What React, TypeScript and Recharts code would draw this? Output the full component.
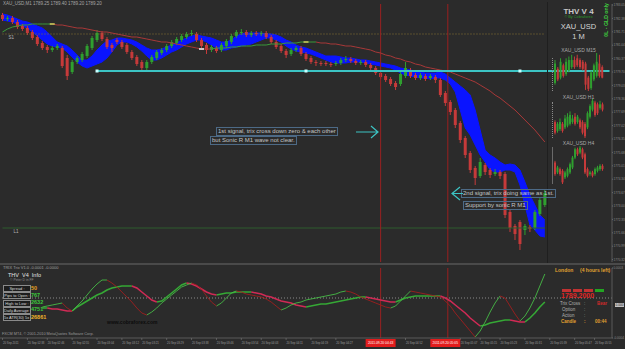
import React from "react";
import {
  ComposedChart,
  Bar,
  Line,
  Area,
  XAxis,
  YAxis,
  ReferenceLine,
  ReferenceDot,
} from "recharts";

const FONT = "'Liberation Sans', Arial, sans-serif";
const BG = "#2b2b2b";
const UP = "#2f9f2f";
const DOWN = "#c63a3a";
const SLOTS = 123;

// XAU_USD M1 candles
const opens = [
  1782.55, 1782.35, 1782.4, 1782.2, 1782.0, 1781.9, 1781.7, 1781.45, 1781.15, 1780.95,
  1780.8, 1780.9, 1780.9, 1780.4, 1779.7, 1780.2, 1780.3, 1780.5, 1780.9, 1781.3,
  1781.65, 1781.35, 1781.05, 1781.3, 1781.2, 1781.05, 1780.7, 1780.45, 1780.2, 1779.9,
  1780.2, 1780.4, 1780.65, 1780.8, 1781.0, 1781.15, 1781.3, 1781.45, 1781.6, 1781.6,
  1781.3, 1781.05, 1780.8, 1780.9, 1780.8, 1781.0, 1781.2, 1781.5, 1781.65, 1781.7,
  1781.55, 1781.65, 1781.6, 1781.65, 1781.45, 1781.2, 1781.0, 1780.75, 1780.6, 1780.8,
  1780.9, 1780.6, 1780.4, 1780.2, 1780.15, 1780.15, 1780.1, 1780.1, 1780.15, 1780.3,
  1780.35, 1780.25, 1780.15, 1780.2, 1780.05, 1779.9, 1779.65, 1779.5, 1779.35, 1779.15,
  1779.1, 1779.5, 1779.8, 1779.55, 1779.4, 1779.5, 1779.4, 1779.45, 1779.3, 1778.65,
  1778.2, 1777.8, 1777.15, 1776.4, 1775.65, 1774.9, 1774.5, 1775.05, 1774.8, 1774.6,
  1774.7, 1774.6, 1772.7, 1772.0, 1772.2, 1771.8, 1771.95, 1771.9, 1772.6, 1773.05,
];
const closes = [
  1782.35, 1782.4, 1782.2, 1781.95, 1781.85, 1781.65, 1781.4, 1781.1, 1780.9, 1780.8,
  1780.9, 1781.0, 1780.0, 1779.5, 1780.2, 1780.4, 1780.6, 1781.0, 1781.4, 1781.65,
  1781.35, 1780.95, 1780.9, 1781.2, 1780.95, 1780.7, 1780.4, 1780.1, 1779.9, 1780.2,
  1780.45, 1780.7, 1780.8, 1781.0, 1781.2, 1781.35, 1781.5, 1781.6, 1781.65, 1781.3,
  1781.0, 1780.8, 1780.95, 1780.75, 1781.05, 1781.25, 1781.5, 1781.7, 1781.7, 1781.55,
  1781.65, 1781.6, 1781.65, 1781.45, 1781.2, 1780.95, 1780.75, 1780.55, 1780.8, 1780.9,
  1780.6, 1780.35, 1780.2, 1780.15, 1780.1, 1780.1, 1780.05, 1780.15, 1780.3, 1780.35,
  1780.25, 1780.15, 1780.2, 1780.05, 1779.9, 1779.65, 1779.45, 1779.3, 1779.1, 1778.95,
  1779.6, 1779.9, 1779.5, 1779.4, 1779.55, 1779.35, 1779.5, 1779.3, 1778.55, 1778.15,
  1777.7, 1777.05, 1776.3, 1775.55, 1774.8, 1774.4, 1775.2, 1774.7, 1774.55, 1774.7,
  1774.5, 1772.55, 1771.9, 1771.6, 1771.1, 1772.0, 1771.85, 1772.7, 1773.3, 1773.65,
];
const highs = [
  1782.65, 1782.5, 1782.5, 1782.3, 1782.1, 1782.0, 1781.8, 1781.55, 1781.25, 1781.05,
  1781.0, 1781.1, 1781.0, 1780.55, 1780.3, 1780.5, 1780.7, 1781.1, 1781.5, 1781.8,
  1781.75, 1781.45, 1781.15, 1781.4, 1781.3, 1781.15, 1780.8, 1780.55, 1780.3, 1780.3,
  1780.55, 1780.8, 1780.9, 1781.1, 1781.3, 1781.45, 1781.6, 1781.7, 1781.8, 1781.7,
  1781.4, 1781.15, 1781.05, 1781.0, 1781.15, 1781.35, 1781.6, 1781.8, 1781.85, 1781.8,
  1781.75, 1781.75, 1781.75, 1781.75, 1781.55, 1781.3, 1781.1, 1780.85, 1780.9, 1781.0,
  1781.0, 1780.7, 1780.5, 1780.3, 1780.25, 1780.25, 1780.2, 1780.25, 1780.4, 1780.5,
  1780.45, 1780.35, 1780.3, 1780.3, 1780.15, 1780.0, 1779.75, 1779.6, 1779.45, 1779.25,
  1779.7, 1780.2, 1779.9, 1779.65, 1779.65, 1779.6, 1779.6, 1779.55, 1779.4, 1778.75,
  1778.3, 1777.9, 1777.25, 1776.5, 1775.75, 1775.0, 1775.4, 1775.15, 1774.9, 1774.85,
  1774.8, 1774.7, 1772.8, 1772.1, 1772.3, 1772.1, 1772.05, 1772.8, 1773.4, 1773.8,
];
const lows = [
  1782.25, 1782.25, 1782.1, 1781.85, 1781.75, 1781.55, 1781.3, 1781.0, 1780.8, 1780.65,
  1780.7, 1780.8, 1779.9, 1779.3, 1779.6, 1780.1, 1780.2, 1780.4, 1780.8, 1781.2,
  1781.25, 1780.85, 1780.7, 1781.1, 1780.85, 1780.6, 1780.3, 1780.0, 1779.7, 1779.8,
  1780.1, 1780.3, 1780.55, 1780.7, 1780.9, 1781.05, 1781.2, 1781.35, 1781.5, 1781.2,
  1780.9, 1780.6, 1780.7, 1780.65, 1780.7, 1780.9, 1781.1, 1781.4, 1781.55, 1781.45,
  1781.45, 1781.5, 1781.5, 1781.35, 1781.1, 1780.85, 1780.65, 1780.4, 1780.5, 1780.7,
  1780.5, 1780.25, 1780.1, 1780.0, 1780.0, 1780.0, 1779.95, 1780.0, 1780.05, 1780.2,
  1780.15, 1780.05, 1780.05, 1779.95, 1779.8, 1779.55, 1779.35, 1779.2, 1779.0, 1778.8,
  1779.0, 1779.4, 1779.4, 1779.3, 1779.3, 1779.25, 1779.3, 1779.15, 1778.45, 1778.0,
  1777.55, 1776.9, 1776.15, 1775.4, 1774.65, 1774.05, 1774.4, 1774.55, 1774.4, 1774.5,
  1774.35, 1772.4, 1771.7, 1771.3, 1770.8, 1771.55, 1771.7, 1771.8, 1772.5, 1772.95,
];

// Sonic R wave band (upper / lower edge)
const sonicHi = [
  1782.6, 1782.55, 1782.45, 1782.35, 1782.25, 1782.2, 1782.1, 1782.0, 1781.9, 1781.7,
  1781.45, 1781.2, 1781.1, 1781.0, 1780.8, 1780.55, 1780.3, 1780.3, 1780.5, 1780.8,
  1781.05, 1781.25, 1781.3, 1781.4, 1781.4, 1781.35, 1781.3, 1781.2, 1781.05, 1780.9,
  1780.8, 1780.8, 1780.85, 1780.95, 1781.05, 1781.15, 1781.3, 1781.4, 1781.5, 1781.55,
  1781.5, 1781.45, 1781.4, 1781.3, 1781.2, 1781.2, 1781.3, 1781.5, 1781.6, 1781.65,
  1781.65, 1781.65, 1781.65, 1781.6, 1781.6, 1781.55, 1781.45, 1781.3, 1781.2, 1781.05,
  1780.95, 1780.9, 1780.8, 1780.7, 1780.6, 1780.5, 1780.5, 1780.5, 1780.45, 1780.4,
  1780.4, 1780.35, 1780.3, 1780.3, 1780.25, 1780.2, 1780.15, 1780.1, 1780.05, 1780.0,
  1779.9, 1779.85, 1779.8, 1779.75, 1779.7, 1779.65, 1779.65, 1779.65, 1779.7, 1779.6,
  1779.4, 1779.2, 1779.0, 1778.8, 1778.55, 1777.8, 1776.8, 1775.8, 1775.55, 1775.4,
  1775.2, 1775.05, 1775.1, 1775.05, 1774.8, 1774.2, 1773.55, 1773.05, 1772.55, 1772.3,
];
const sonicLo = [
  1782.3, 1782.25, 1782.2, 1782.1, 1782.0, 1781.9, 1781.7, 1781.5, 1781.3, 1781.1,
  1781.0, 1780.95, 1780.9, 1780.7, 1780.45, 1780.2, 1780.0, 1779.9, 1780.0, 1780.1,
  1780.2, 1780.4, 1780.7, 1781.05, 1781.2, 1781.2, 1781.1, 1780.95, 1780.75, 1780.5,
  1780.3, 1780.3, 1780.4, 1780.55, 1780.7, 1780.8, 1780.95, 1781.1, 1781.2, 1781.3,
  1781.3, 1781.2, 1781.05, 1780.9, 1780.8, 1780.8, 1780.9, 1780.95, 1781.0, 1781.05,
  1781.1, 1781.2, 1781.3, 1781.4, 1781.4, 1781.3, 1781.2, 1781.0, 1780.85, 1780.75,
  1780.7, 1780.65, 1780.6, 1780.5, 1780.4, 1780.3, 1780.2, 1780.15, 1780.15, 1780.15,
  1780.2, 1780.2, 1780.2, 1780.15, 1780.1, 1780.05, 1780.0, 1779.95, 1779.9, 1779.8,
  1779.65, 1779.55, 1779.5, 1779.45, 1779.4, 1779.4, 1779.35, 1779.4, 1779.4, 1779.3,
  1779.1, 1778.7, 1777.8, 1776.9, 1776.55, 1776.05, 1775.55, 1775.2, 1774.8, 1774.7,
  1774.7, 1774.8, 1774.8, 1774.7, 1774.05, 1773.05, 1772.05, 1771.8, 1771.5, 1771.45,
];

// slow moving average, coloured by slope
const maLine = [
  1781.7, 1781.85, 1781.95, 1782.0, 1782.05, 1782.05, 1782.1, 1782.1, 1782.1, 1782.1,
  1782.1, 1782.05, 1782.05, 1782.0, 1781.95, 1781.9, 1781.9, 1781.85, 1781.8, 1781.75,
  1781.7, 1781.7, 1781.65, 1781.6, 1781.55, 1781.5, 1781.45, 1781.45, 1781.4, 1781.35,
  1781.3, 1781.25, 1781.2, 1781.2, 1781.15, 1781.1, 1781.05, 1781.0, 1780.95, 1780.9,
  1780.85, 1780.85, 1780.85, 1780.9, 1780.9, 1780.9, 1780.95, 1780.95, 1781.0, 1781.0,
  1781.0, 1781.05, 1781.05, 1781.05, 1781.1, 1781.1, 1781.1, 1781.15, 1781.15, 1781.15,
  1781.2, 1781.2, 1781.2, 1781.2, 1781.15, 1781.15, 1781.1, 1781.1, 1781.05, 1781.0,
  1781.0, 1780.95, 1780.9, 1780.85, 1780.8, 1780.7, 1780.65, 1780.55, 1780.5, 1780.4,
  1780.35, 1780.25, 1780.2, 1780.1, 1780.05, 1779.95, 1779.9, 1779.85, 1779.8, 1779.75,
  1779.7, 1779.6, 1779.5, 1779.4, 1779.3, 1779.2, 1779.05, 1778.9, 1778.75, 1778.55,
  1778.4, 1778.2, 1778.0, 1777.8, 1777.55, 1777.3, 1777.05, 1776.8, 1776.5, 1776.2,
];

// TRIX window
const trixFast = [
  null, null, null, null, null, null, null, null, -9e-5, -8e-5,
  -7e-5, -6e-5, -5e-5, -10e-5, -13e-5, -8e-5, -3e-5, 3e-5, 9e-5, 14e-5,
  18e-5, 18e-5, 15e-5, 11e-5, 6e-5, 1e-5, -4e-5, -10e-5, -15e-5, -17e-5,
  -14e-5, -10e-5, -5e-5, -1e-5, 3e-5, 7e-5, 11e-5, 13e-5, 15e-5, 13e-5,
  9e-5, 2e-5, -4e-5, -8e-5, -5e-5, 0, 5e-5, 7e-5, 6e-5, 4e-5,
  3e-5, 2e-5, 1e-5, -1e-5, -4e-5, -8e-5, -12e-5, -10e-5, -7e-5, -5e-5,
  -4e-5, -2e-5, -1e-5, 0, 1e-5, 2e-5, 3e-5, 4e-5, 6e-5, 7e-5,
  6e-5, 4e-5, 1e-5, -1e-5, -3e-5, -5e-5, -7e-5, -9e-5, -10e-5, -8e-5,
  -3e-5, 2e-5, 7e-5, 6e-5, 5e-5, 4e-5, 3e-5, 2e-5, 1e-5, -3e-5,
  -8e-5, -15e-5, -21e-5, -27e-5, -33e-5, -39e-5, -33e-5, -24e-5, -14e-5, -5e-5,
  2e-5, 0, -8e-5, -16e-5, -23e-5, -18e-5, -10e-5, 0, 12e-5, 24e-5,
];
const trixSlow = [
  null, null, null, null, null, null, null, null, -10e-5, -10e-5,
  -11e-5, -11e-5, -12e-5, -13e-5, -13e-5, -9e-5, -6e-5, -3e-5, 0, 3e-5,
  5e-5, 8e-5, 10e-5, 11e-5, 12e-5, 12e-5, 12e-5, 10e-5, 6e-5, 2e-5,
  -2e-5, -4e-5, -3e-5, 1e-5, 5e-5, 9e-5, 13e-5, 15e-5, 14e-5, 12e-5,
  9e-5, 6e-5, 4e-5, 3e-5, 4e-5, 5e-5, 5e-5, 6e-5, 6e-5, 6e-5,
  6e-5, 5e-5, 4e-5, 2e-5, 1e-5, -1e-5, -3e-5, -4e-5, -5e-5, -7e-5,
  -8e-5, -9e-5, -8e-5, -7e-5, -6e-5, -6e-5, -5e-5, -4e-5, -3e-5, -2e-5,
  -1e-5, 0, 1e-5, 1e-5, 0, -1e-5, -2e-5, -3e-5, -4e-5, -4e-5,
  -2e-5, 0, 1e-5, 2e-5, 2e-5, 2e-5, 2e-5, 2e-5, 2e-5, 0,
  -3e-5, -7e-5, -11e-5, -15e-5, -20e-5, -24e-5, -28e-5, -27e-5, -25e-5, -24e-5,
  -23e-5, -22e-5, -22e-5, -23e-5, -24e-5, -24e-5, -20e-5, -15e-5, -9e-5, -4e-5,
];

const priceTicks = [
  1783.05, 1782.38, 1781.71, 1781.04, 1780.37, 1779.7, 1779.03, 1778.36, 1777.69, 1777.02,
  1776.35, 1775.68, 1775.01, 1774.34, 1773.67, 1773.0, 1772.33, 1771.66, 1770.99, 1770.32,
];
const trixTicks = [0.0003, -0.0004];

const timeTickIdx = [0, 5, 9, 14, 19, 24, 28, 33, 38, 43, 48, 52, 57, 62, 67, 81, 92, 96, 100, 105, 110, 115, 119];
const timeTickLabels = [
  "20 Sep 2011", "20 Sep 02:38", "20 Sep 02:46", "20 Sep 02:55", "20 Sep 03:04", "20 Sep 03:12",
  "20 Sep 03:21", "20 Sep 03:29", "20 Sep 03:38", "20 Sep 03:46", "20 Sep 03:54", "20 Sep 04:03",
  "20 Sep 04:11", "20 Sep 04:19", "20 Sep 04:27", "20 Sep 04:52",
  "20 Sep 05:07", "20 Sep 05:15", "20 Sep 05:23", "20 Sep 05:31", "20 Sep 05:39", "20 Sep 05:47",
  "20 Sep 05:55",
];
const vLineIdx = [76, 89];
const vLineLabels = ["2011.09.20 04:43", "2011.09.20 05:05"];

const cyanLevel = 1779.75;
const cyanMarks = [19, 61, 104];
const dotLevel = 1781.6;
const greenLevel = 1771.9;

// small panel charts: M15, H1, H4
const m15 = {
  o: [1780.1, 1780.9, 1780.4, 1781.1, 1780.6, 1780.8, 1781.0, 1781.4, 1781.5, 1781.4, 1781.3, 1781.2, 1780.4, 1779.8, 1780.3, 1780.5, 1781.2, 1781.0],
  c: [1781.2, 1780.3, 1781.3, 1780.5, 1781.3, 1781.4, 1781.4, 1781.0, 1781.1, 1781.0, 1780.9, 1780.0, 1779.76, 1780.7, 1781.1, 1781.3, 1780.5, 1780.4],
  h: [1781.4, 1781.0, 1781.5, 1781.2, 1781.5, 1781.6, 1781.7, 1781.6, 1781.7, 1781.5, 1781.4, 1781.3, 1780.5, 1780.8, 1781.2, 1781.8, 1781.7, 1781.1],
  l: [1780.0, 1780.2, 1780.3, 1780.4, 1780.5, 1780.7, 1780.9, 1780.9, 1781.0, 1780.9, 1780.8, 1779.7, 1779.64, 1779.7, 1780.2, 1780.4, 1780.4, 1780.36],
};
const h1 = {
  o: [1777.7, 1777.2, 1777.3, 1777.6, 1777.4, 1777.5, 1777.6, 1777.7, 1778.0, 1777.7, 1777.8, 1777.7, 1777.6, 1777.4, 1778.0, 1778.4, 1778.8, 1778.7, 1778.5, 1778.7],
  c: [1777.1, 1777.6, 1777.7, 1777.2, 1777.9, 1778.0, 1778.1, 1777.9, 1777.6, 1778.0, 1777.4, 1777.1, 1776.9, 1778.2, 1778.6, 1778.9, 1778.1, 1778.2, 1778.7, 1778.4],
  h: [1777.8, 1777.7, 1777.9, 1777.7, 1778.1, 1778.2, 1778.3, 1778.1, 1778.2, 1778.1, 1777.9, 1777.8, 1777.7, 1778.3, 1778.7, 1779.0, 1778.9, 1778.8, 1778.9, 1778.8],
  l: [1777.0, 1777.1, 1777.2, 1777.1, 1777.3, 1777.4, 1777.5, 1777.6, 1777.5, 1777.6, 1777.3, 1777.0, 1776.8, 1777.3, 1777.9, 1778.3, 1778.0, 1778.1, 1778.4, 1778.3],
};
const h4 = {
  o: [1775.3, 1774.7, 1774.9, 1774.8, 1774.4, 1774.5, 1774.7, 1775.0, 1775.6, 1776.1, 1775.9, 1776.1, 1775.8, 1774.9, 1774.6, 1774.7, 1774.6, 1774.8, 1774.9, 1775.1],
  c: [1774.6, 1775.0, 1774.6, 1774.1, 1774.7, 1774.9, 1775.2, 1775.6, 1776.1, 1775.8, 1776.2, 1775.6, 1774.7, 1774.5, 1774.7, 1774.5, 1774.9, 1775.0, 1775.1, 1774.9],
  h: [1775.4, 1775.1, 1775.0, 1774.9, 1774.8, 1775.0, 1775.3, 1775.7, 1776.2, 1776.2, 1776.3, 1776.2, 1775.9, 1775.0, 1774.8, 1774.8, 1775.0, 1775.1, 1775.2, 1775.2],
  l: [1774.5, 1774.6, 1774.5, 1774.0, 1774.3, 1774.4, 1774.6, 1774.9, 1775.5, 1775.7, 1775.8, 1775.5, 1774.6, 1774.4, 1774.5, 1774.4, 1774.5, 1774.7, 1774.8, 1774.8],
};

const infoRows = [
  { label: "Spread :", value: "50", color: "#e8a020" },
  { label: "Pips to Open :", value: "767", color: "#3cc83c" },
  { label: "High to Low :", value: "2632", color: "#3cc83c" },
  { label: "Daily Average :", value: "4751", color: "#3cc83c" },
  { label: "5x ATR(30) 5x :", value: "26861", color: "#f2b52a" },
];

function splitBySlope(arr: (number | null)[]) {
  const seg: (string | null)[] = [];
  let last = "up";
  for (let i = 0; i < arr.length - 1; i++) {
    const a = arr[i];
    const b = arr[i + 1];
    if (a == null || b == null) {
      seg.push(null);
      continue;
    }
    if (b > a) last = "up";
    else if (b < a) last = "dn";
    seg.push(last);
  }
  const pick = (dir: string) =>
    arr.map((v, i) => (v != null && (seg[i - 1] === dir || seg[i] === dir) ? v : null));
  return [pick("up"), pick("dn")];
}

const [maUp, maDn] = splitBySlope(maLine);
const [fastUp, fastDn] = splitBySlope(trixFast);
const [slowUp, slowDn] = splitBySlope(trixSlow);

const rows = Array.from({ length: SLOTS }, (_, i) => ({
  i,
  open: opens[i] ?? null,
  high: highs[i] ?? null,
  low: lows[i] ?? null,
  close: closes[i] ?? null,
  sHi: sonicHi[i] ?? null,
  sLo: sonicLo[i] ?? null,
  maUp: maUp[i] ?? null,
  maDn: maDn[i] ?? null,
  fUp: fastUp[i] ?? null,
  fDn: fastDn[i] ?? null,
  sUp: slowUp[i] ?? null,
  sDn: slowDn[i] ?? null,
}));

function Candle(props: any) {
  const { x, y, width, height, payload } = props;
  if (!payload || payload.open == null) return null;
  const { open, close, high, low } = payload;
  const top = height < 0 ? y + height : y;
  const h = Math.abs(height);
  const k = h / (high - low || 1);
  const col = close >= open ? UP : DOWN;
  const bodyTop = top + (high - Math.max(open, close)) * k;
  const bodyH = Math.max(1, Math.abs(close - open) * k);
  const cx = x + width / 2;
  return (
    <g>
      <line x1={cx} x2={cx} y1={top} y2={top + h} stroke={col} strokeWidth={1} />
      <rect x={x} y={bodyTop} width={width} height={bodyH} fill={col} />
    </g>
  );
}

function MiniCandles({ data, left, top, width, height }: any) {
  const d = data.o.map((o: number, i: number) => ({
    i,
    open: o,
    close: data.c[i],
    high: data.h[i],
    low: data.l[i],
  }));
  return (
    <div style={{ position: "absolute", left, top }}>
      <ComposedChart width={width} height={height} data={d} margin={{ top: 0, right: 0, bottom: 0, left: 0 }}>
        <XAxis dataKey="i" scale="band" hide />
        <YAxis hide domain={["dataMin", "dataMax"]} />
        <Bar
          dataKey={(r: any) => [r.low, r.high]}
          barSize={2}
          shape={(p: any) => <Candle {...p} />}
          isAnimationActive={false}
        />
      </ComposedChart>
    </div>
  );
}

function LineTag({ viewBox, text, dx, dy }: any) {
  if (!viewBox) return null;
  return (
    <text x={viewBox.x + dx} y={viewBox.y + dy} fontSize={4.5} fill="#b5b5b5" fontFamily={FONT}>
      {text}
    </text>
  );
}

function TimeTick(props: any) {
  const { x, y, payload } = props;
  const idx = payload.value;
  const r = vLineIdx.indexOf(idx);
  if (r >= 0) {
    return (
      <g>
        <rect x={x - 15} y={y - 2} width={30} height={8} fill="#e21c1c" />
        <text x={x} y={y + 3.4} textAnchor="middle" fontSize={3.3} fill="#ffffff" fontFamily={FONT}>
          {vLineLabels[r]}
        </text>
      </g>
    );
  }
  const j = timeTickIdx.indexOf(idx);
  return (
    <g>
      <line x1={x} x2={x} y1={y - 3} y2={y - 1} stroke="#7a7a7a" strokeWidth={0.6} />
      <text x={x + 0.4} y={y + 3.4} fontSize={2.8} fill="#9c9c9c" fontFamily={FONT}>
        {timeTickLabels[j]}
      </text>
    </g>
  );
}

const small = (extra: React.CSSProperties): React.CSSProperties => ({
  position: "absolute",
  whiteSpace: "nowrap",
  fontFamily: FONT,
  lineHeight: 1,
  ...extra,
});

const noteBox: React.CSSProperties = {
  position: "absolute",
  whiteSpace: "nowrap",
  fontFamily: FONT,
  fontSize: 6,
  lineHeight: "7px",
  color: "#c4c4c4",
  border: "1px solid #4d6a86",
  padding: "0 1px",
};

export default function App() {
  return (
    <div
      style={{
        position: "absolute",
        left: 0,
        top: 0,
        width: 625,
        height: 349,
        background: BG,
        overflow: "hidden",
        fontFamily: FONT,
      }}
    >
      {/* price window */}
      <div style={{ position: "absolute", left: 0, top: 0 }}>
        <ComposedChart width={625} height={263} data={rows} margin={{ top: 4, right: 0, bottom: 1, left: 0 }}>
          <XAxis dataKey="i" scale="band" hide />
          <YAxis
            orientation="right"
            width={13}
            domain={[1770.2, 1783.1]}
            ticks={priceTicks}
            interval={0}
            allowDataOverflow
            tickFormatter={(v: number) => v.toFixed(2)}
            tick={{ fontSize: 3.1, fill: "#8c8c8c", fontFamily: FONT }}
            tickSize={1}
            tickMargin={0.5}
            tickLine={{ stroke: "#6a6a6a" }}
            axisLine={{ stroke: "#5a5a5a" }}
          />
          <ReferenceLine
            segment={[{ x: 0, y: dotLevel }, { x: 109, y: dotLevel }]}
            stroke="#8a7432"
            strokeDasharray="1 2"
            label={<LineTag text="S1" dx={6} dy={5} />}
          />
          <ReferenceLine
            segment={[{ x: 0, y: greenLevel }, { x: 109, y: greenLevel }]}
            stroke="#2f5c2f"
            label={<LineTag text="L1" dx={11} dy={5} />}
          />
          <ReferenceLine x={vLineIdx[0]} stroke="#9a2020" />
          <ReferenceLine x={vLineIdx[1]} stroke="#9a2020" position="end" />
          <Area
            dataKey={(d: any) => (d.sHi == null ? null : [d.sLo, d.sHi])}
            type="linear"
            stroke="#0a14ff"
            strokeWidth={1}
            fill="#0a14ff"
            fillOpacity={1}
            isAnimationActive={false}
            dot={false}
            activeDot={false}
          />
          <Bar
            dataKey={(d: any) => (d.high == null ? null : [d.low, d.high])}
            barSize={3}
            shape={(p: any) => <Candle {...p} />}
            isAnimationActive={false}
          />
          <Line dataKey="maUp" stroke="#3a9a3a" strokeWidth={1} dot={false} activeDot={false} isAnimationActive={false} />
          <Line dataKey="maDn" stroke="#a83838" strokeWidth={1} dot={false} activeDot={false} isAnimationActive={false} />
          <ReferenceLine
            segment={[{ x: 19, y: cyanLevel }, { x: 122, y: cyanLevel }]}
            stroke="#3cc4c4"
            strokeWidth={2}
          />
          {cyanMarks.map((m) => (
            <ReferenceDot
              key={m}
              x={m}
              y={cyanLevel}
              r={1.5}
              shape={(p: any) => <rect x={p.cx - 1.5} y={p.cy - 1.5} width={3} height={3} fill="#c8ffff" />}
            />
          ))}
          <ReferenceDot x={10} y={maLine[10]} r={1} shape={(p: any) => <rect x={p.cx - 2.5} y={p.cy - 0.8} width={5} height={1.6} fill="#c9c25a" />} />
          <ReferenceDot x={40} y={maLine[40]} r={1} shape={(p: any) => <rect x={p.cx - 2.5} y={p.cy - 0.8} width={5} height={1.6} fill="#e8e8e8" />} />
          <ReferenceDot x={61} y={maLine[61]} r={1} shape={(p: any) => <rect x={p.cx - 2.5} y={p.cy - 0.8} width={5} height={1.6} fill="#c9c25a" />} />
        </ComposedChart>
      </div>

      <div style={small({ left: 3, top: 2, fontSize: 4.5, color: "#a6a6a6" })}>
        XAU_USD,M1 1789.25 1789.40 1789.20 1789.20
      </div>

      {/* right info panel */}
      <div style={{ position: "absolute", left: 547, top: 2, width: 65, height: 261, borderLeft: "1px solid #1f1f1f" }} />
      <div style={small({ left: 547, width: 63, top: 8, fontSize: 8, fontWeight: "bold", color: "#c9c9c9", textAlign: "center" })}>THV V 4</div>
      <div style={small({ left: 547, width: 63, top: 16, fontSize: 3.8, color: "#2a9a2a", textAlign: "center" })}>© By Cobraforex</div>
      <div style={small({ left: 547, width: 63, top: 23, fontSize: 7.5, color: "#d6d6d6", textAlign: "center" })}>XAU_USD</div>
      <div style={small({ left: 547, width: 63, top: 33, fontSize: 7.5, color: "#d6d6d6", textAlign: "center" })}>1 M</div>
      <div
        style={small({
          left: 604,
          top: 3,
          fontSize: 5.2,
          fontWeight: "bold",
          color: "#3fd03f",
          writingMode: "vertical-rl",
          transform: "rotate(180deg)",
        })}
      >
        0L - GLD only
      </div>
      <div style={small({ left: 547, width: 63, top: 48, fontSize: 5, color: "#aaaaaa", textAlign: "center" })}>XAU_USD M15</div>
      <div style={small({ left: 547, width: 63, top: 95, fontSize: 5, color: "#aaaaaa", textAlign: "center" })}>XAU_USD H1</div>
      <div style={small({ left: 547, width: 63, top: 141, fontSize: 5, color: "#aaaaaa", textAlign: "center" })}>XAU_USD H4</div>
      <div style={{ position: "absolute", left: 552, top: 58, height: 33, borderLeft: "1px dotted #8a8a8a" }} />
      <div style={{ position: "absolute", left: 552, top: 102, height: 36, borderLeft: "1px dotted #8a8a8a" }} />
      <div style={{ position: "absolute", left: 552, top: 147, height: 37, borderLeft: "1px solid #6a6a6a" }} />
      <MiniCandles data={m15} left={554} top={53} width={50} height={38} />
      <MiniCandles data={h1} left={554} top={99} width={50} height={39} />
      <MiniCandles data={h4} left={554} top={146} width={50} height={38} />

      {/* notes */}
      <div style={{ ...noteBox, left: 216, top: 127 }}>1st signal, trix cross down zero &amp; each other</div>
      <div style={{ ...noteBox, left: 210, top: 136 }}>but Sonic R M1  wave not clear.</div>
      <div style={{ ...noteBox, left: 461, top: 189 }}>2nd signal, trix doing same as 1st.</div>
      <div style={{ ...noteBox, left: 463, top: 201 }}>Support by sonic R M1</div>
      <svg style={{ position: "absolute", left: 354, top: 124 }} width={26} height={16}>
        <path d="M2 8 L24 8 M17 2 L24 8 L17 14" stroke="#3cc4c4" strokeWidth={1.2} fill="none" />
      </svg>
      <svg style={{ position: "absolute", left: 450, top: 185 }} width={14} height={18}>
        <path d="M10 2 L2 8.5 L10 15 M2 8.5 L13 8.5" stroke="#3cc4c4" strokeWidth={1.2} fill="none" />
      </svg>

      {/* window separator */}
      <div style={{ position: "absolute", left: 0, top: 263, width: 625, height: 2, background: "#4a4a4a" }} />

      {/* TRIX window */}
      <div style={{ position: "absolute", left: 0, top: 265 }}>
        <ComposedChart width={625} height={84} data={rows} margin={{ top: 3, right: 0, bottom: 0, left: 0 }}>
          <XAxis
            dataKey="i"
            scale="band"
            ticks={[...timeTickIdx, ...vLineIdx]}
            interval={0}
            height={11}
            tick={<TimeTick />}
            tickSize={2}
            tickMargin={1}
            tickLine={false}
            axisLine={{ stroke: "#5a5a5a" }}
          />
          <YAxis
            orientation="right"
            width={13}
            domain={[-0.0004, 0.0003]}
            ticks={trixTicks}
            interval={0}
            allowDataOverflow
            tickFormatter={(v: number) => v.toFixed(4)}
            tick={{ fontSize: 3.1, fill: "#8c8c8c", fontFamily: FONT }}
            tickSize={1}
            tickMargin={0.5}
            tickLine={{ stroke: "#6a6a6a" }}
            axisLine={{ stroke: "#5a5a5a" }}
          />
          <ReferenceLine y={0} stroke="#8a8a8a" strokeDasharray="1 2" />
          <ReferenceLine x={vLineIdx[0]} stroke="#9a2020" />
          <ReferenceLine x={vLineIdx[1]} stroke="#9a2020" position="end" />
          <Line dataKey="sUp" stroke="#35a835" strokeWidth={1.6} dot={false} activeDot={false} isAnimationActive={false} />
          <Line dataKey="sDn" stroke="#d02a55" strokeWidth={1.6} dot={false} activeDot={false} isAnimationActive={false} />
          <Line dataKey="fUp" stroke="#46bb46" strokeWidth={0.9} dot={false} activeDot={false} isAnimationActive={false} />
          <Line dataKey="fDn" stroke="#a01e1e" strokeWidth={0.9} dot={false} activeDot={false} isAnimationActive={false} />
        </ComposedChart>
      </div>

      <div style={small({ left: 3, top: 266, fontSize: 4, color: "#a0a0a0" })}>TRIX Trix V1.0 -0.0001 -0.0000</div>
      <div style={small({ left: 615, top: 303, fontSize: 3.2, color: "#222", background: "#c4c4c4", padding: "0.5px 0.5px" })}>0.000</div>

      {/* THV info box */}
      <div style={small({ left: 8, top: 273, fontSize: 5.5, color: "#e2e2e2" })}>THV&nbsp; V4&nbsp; Info</div>
      <div style={small({ left: 10, top: 279, fontSize: 3.4, color: "#8e8e8e" })}>© Peter D in FF</div>
      {infoRows.map((r, k) => (
        <React.Fragment key={r.label}>
          <div
            style={small({
              left: 3,
              top: 285 + k * 7.3,
              width: 26,
              height: 5,
              fontSize: 4,
              lineHeight: "5px",
              color: "#d8d8d8",
              background: "#1d1d1d",
              border: "1px solid #8a8a8a",
              textAlign: "center",
            })}
          >
            {r.label}
          </div>
          <div style={small({ left: 31, top: 285.5 + k * 7.3, fontSize: 5.5, fontWeight: "bold", color: r.color })}>
            {r.value}
          </div>
        </React.Fragment>
      ))}
      <div style={small({ left: 107, top: 320, fontSize: 5, fontWeight: "bold", color: "#0c0c0c" })}>www.cobraforex.com</div>
      <div style={small({ left: 2, top: 333, fontSize: 3.8, color: "#9a9a9a" })}>
        FXCM MT4, © 2001-2010 MetaQuotes Software Corp.
      </div>

      {/* session panel */}
      <div style={small({ left: 555, top: 268, fontSize: 5, fontWeight: "bold", color: "#e0a030" })}>London</div>
      <div style={small({ left: 580, top: 268, fontSize: 5, fontWeight: "bold", color: "#e0a030" })}>(4 hours left)</div>
      {["#c03232", "#c03232", "#c03232", "#22a522"].map((c, k) => (
        <div key={k} style={{ position: "absolute", left: 562 + k * 11, top: 289, width: 9, height: 2.5, background: c }} />
      ))}
      <div style={small({ left: 561, top: 292, fontSize: 7, fontWeight: "bold", color: "#e02424" })}>1789.2000</div>
      <div style={small({ left: 560, top: 302, fontSize: 4.5, color: "#b0b0b0" })}>Trix Cross</div>
      <div style={small({ left: 584, top: 302, fontSize: 4.5, color: "#b0b0b0" })}>:</div>
      <div style={small({ left: 597, top: 302, fontSize: 4.5, fontWeight: "bold", color: "#d22a2a" })}>Bear</div>
      <div style={small({ left: 562, top: 308, fontSize: 4.5, color: "#b0b0b0" })}>Option</div>
      <div style={small({ left: 584, top: 308, fontSize: 4.5, color: "#b0b0b0" })}>:</div>
      <div style={small({ left: 562, top: 313.5, fontSize: 4.5, color: "#b0b0b0" })}>Action</div>
      <div style={small({ left: 584, top: 313.5, fontSize: 4.5, color: "#b0b0b0" })}>:</div>
      <div style={small({ left: 561, top: 319.5, fontSize: 4.5, fontWeight: "bold", color: "#e0a030" })}>Candle</div>
      <div style={small({ left: 584, top: 319.5, fontSize: 4.5, fontWeight: "bold", color: "#e0a030" })}>:</div>
      <div style={small({ left: 595, top: 319.5, fontSize: 4.5, fontWeight: "bold", color: "#e0a030" })}>00:44</div>
    </div>
  );
}
